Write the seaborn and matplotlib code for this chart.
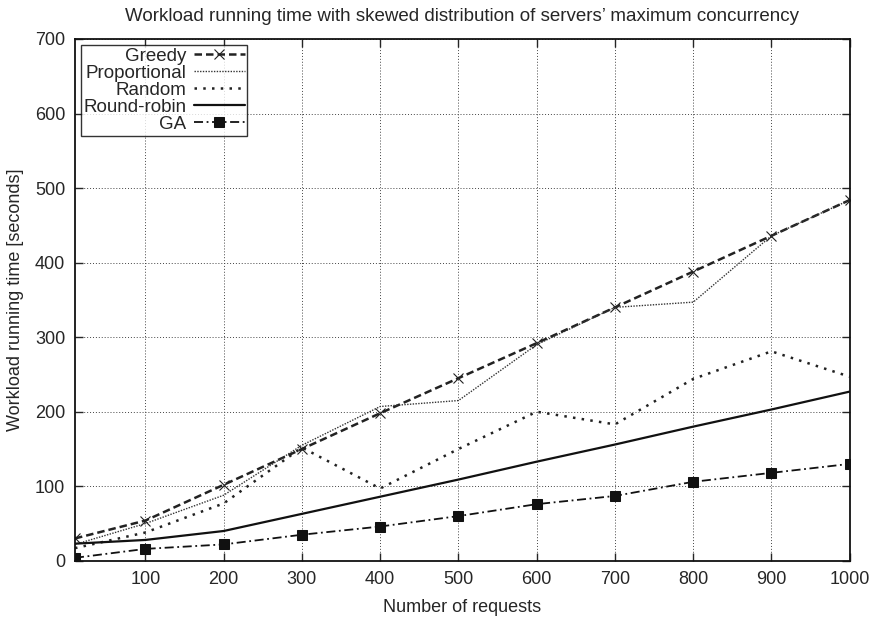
import pandas as pd
import matplotlib
matplotlib.use("Agg")
import matplotlib.pyplot as plt
import seaborn as sns

# data
requests = [10, 100, 200, 300, 400, 500, 600, 700, 800, 900, 1000]
greedy = [30, 54, 102, 150, 198, 245, 292, 340, 388, 436, 484]
proportional = [22, 50, 88, 155, 207, 215, 290, 340, 347, 436, 484]
random_ = [17, 38, 77, 152, 97, 150, 200, 183, 244, 281, 247]
round_robin = [23, 28, 40, 63, 86, 109, 133, 156, 180, 203, 227]
ga = [4, 16, 22, 35, 46, 60, 76, 87, 106, 118, 130]

sns.set_style("ticks")
plt.rcParams['font.family'] = ['Liberation Sans', 'DejaVu Sans']

fig, ax = plt.subplots(figsize=(8.76, 6.19), dpi=100)
fig.subplots_adjust(left=0.0856, right=0.970, top=0.937, bottom=0.094)

# Plot each strategy
sns.lineplot(x=requests, y=greedy, ax=ax, color='#222222', lw=1.8,
             linestyle=(0, (3, 1.6)), marker='x', markersize=6.5, mew=0.8,
             mec='#222222', label='Greedy')
sns.lineplot(x=requests, y=proportional, ax=ax, color='#333333', lw=1.0,
             linestyle=(0, (1, 1)), label='Proportional')
sns.lineplot(x=requests, y=random_, ax=ax, color='#222222', lw=1.8,
             linestyle=(0, (1, 2.5)), label='Random')
sns.lineplot(x=requests, y=round_robin, ax=ax, color='#111111', lw=1.6,
             linestyle='-', label='Round-robin')
sns.lineplot(x=requests, y=ga, ax=ax, color='#111111', lw=1.3,
             linestyle=(0, (5, 2, 1, 2)), marker='s', markersize=6.5,
             mec='#111111', label='GA')

ax.set_xlim(10, 1000)
ax.set_ylim(0, 700)
ax.set_xticks(range(100, 1001, 100))
ax.set_yticks(range(0, 701, 100))
ax.grid(True, color='#444444', linestyle=(0, (1, 2)), linewidth=0.7)
ax.tick_params(direction='in', top=True, right=True, labelsize=13,
               length=6, width=1, pad=7)
for s in ax.spines.values():
    s.set_linewidth(1.3)
    s.set_color('#111111')

ax.set_xlabel('Number of requests', fontsize=13, labelpad=8)
ax.set_ylabel('Workload running time [seconds]', fontsize=13, labelpad=8)
ax.set_title("Workload running time with skewed distribution of servers\u2019 maximum concurrency",
             fontsize=13.5, pad=13)

leg = ax.legend(loc='upper left', markerfirst=False, fontsize=13.5,
                frameon=True, fancybox=False, edgecolor='black',
                borderpad=0.15, labelspacing=0.0, handlelength=2.7,
                handletextpad=0.4, borderaxespad=0.3)
leg.get_frame().set_linewidth(1.0)

plt.savefig('out.png', dpi=100)
